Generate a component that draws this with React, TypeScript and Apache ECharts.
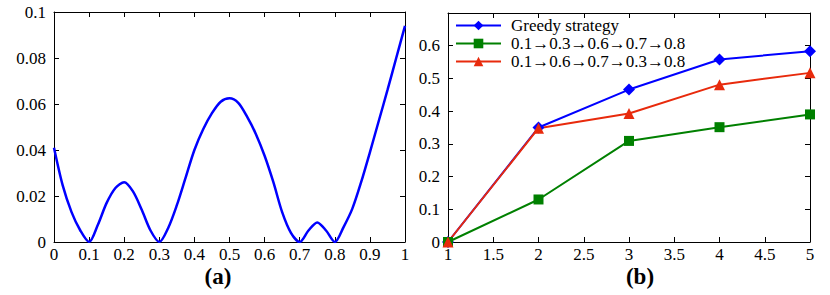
import React, { useEffect, useRef } from "react";
import * as echarts from "echarts";

// Chart (a)
const curveX = [0, 0.025, 0.05, 0.075, 0.1, 0.125, 0.15, 0.175, 0.2, 0.225, 0.25, 0.275, 0.3, 0.325, 0.35, 0.375, 0.4, 0.425, 0.45, 0.475, 0.5, 0.525, 0.55, 0.575, 0.6, 0.625, 0.65, 0.675, 0.7, 0.725, 0.75, 0.775, 0.8, 0.825, 0.85, 0.875, 0.9, 0.925, 0.95, 0.975, 1.0];
const curveY = [0.041, 0.0245, 0.013, 0.005, 0.0, 0.0075, 0.017, 0.0235, 0.026, 0.022, 0.014, 0.005, 0.0, 0.006, 0.016, 0.028, 0.04, 0.049, 0.056, 0.061, 0.0625, 0.0605, 0.0545, 0.047, 0.0375, 0.026, 0.013, 0.004, 0.0, 0.005, 0.0085, 0.005, 0.0, 0.0065, 0.0145, 0.026, 0.039, 0.0525, 0.066, 0.08, 0.094];

// Chart (b)
const stepsB = [1, 2, 3, 4, 5];
const greedy = [0, 0.35, 0.466, 0.558, 0.583];
const seqA = [0, 0.13, 0.309, 0.351, 0.39];
const seqB = [0, 0.348, 0.393, 0.481, 0.517];
const seriesNames = ["Greedy strategy", "0.1→0.3→0.6→0.7→0.8", "0.1→0.6→0.7→0.3→0.8"];

const FONT = "Liberation Serif";

const fmt = (v: number) => String(Math.round(v * 1000) / 1000);

function axisBase(extra: any, label: any) {
  return {
    axisLine: { show: true, onZero: false, lineStyle: { color: "#000", width: 1 } },
    axisTick: { show: true, inside: true, length: 5, lineStyle: { color: "#000" } },
    splitLine: { show: false },
    axisLabel: label,
    ...extra,
  };
}

export default function App() {
  const ref = useRef<HTMLDivElement>(null);
  useEffect(() => {
    if (!ref.current) return;
    const chart = echarts.init(ref.current, undefined, { renderer: "svg" });
    const rich = { t: { fontFamily: FONT, fontSize: 17, color: "#000" } };
    const lab = (margin: number, skipTop: number | null) => ({
      show: true,
      color: "#000",
      fontFamily: FONT,
      fontSize: 17,
      margin,
      rich,
      formatter: (v: number) =>
        skipTop !== null && Math.abs(v - skipTop) < 1e-6 ? "" : `{t|${fmt(v)}}`,
    });
    const hidden = { show: false };
    const option: any = {
      animation: false,
      backgroundColor: "#fff",
      textStyle: { fontFamily: FONT, fontSize: 17, color: "#000" },
      grid: [
        { left: 54, top: 12, width: 351, height: 230 },
        { left: 448, top: 13, width: 362, height: 229 },
      ],
      xAxis: [
        axisBase({ type: "value", gridIndex: 0, min: 0, max: 1, interval: 0.1, position: "bottom" }, lab(4, null)),
        axisBase({ type: "value", gridIndex: 0, min: 0, max: 1, interval: 0.1, position: "top" }, hidden),
        axisBase({ type: "value", gridIndex: 1, min: 1, max: 5, interval: 0.5, position: "bottom" }, lab(4, null)),
        axisBase({ type: "value", gridIndex: 1, min: 1, max: 5, interval: 0.5, position: "top" }, hidden),
      ],
      yAxis: [
        axisBase({ type: "value", gridIndex: 0, min: 0, max: 0.1, interval: 0.02, position: "left" }, lab(8, null)),
        axisBase({ type: "value", gridIndex: 0, min: 0, max: 0.1, interval: 0.02, position: "right" }, hidden),
        axisBase({ type: "value", gridIndex: 1, min: 0, max: 0.7, interval: 0.1, position: "left" }, lab(8, 0.7)),
        axisBase({ type: "value", gridIndex: 1, min: 0, max: 0.7, interval: 0.1, position: "right" }, hidden),
      ],
      legend: {
        orient: "vertical",
        left: 455,
        top: 17,
        padding: 0,
        itemWidth: 45,
        itemHeight: 12,
        itemGap: 1,
        textStyle: { color: "#000", fontFamily: FONT, fontSize: 17, lineHeight: 16, padding: [0, 0, 0, 5] },
        data: seriesNames,
      },
      series: [
        {
          type: "line",
          xAxisIndex: 0,
          yAxisIndex: 0,
          data: curveX.map((x, i) => [x, curveY[i]]),
          smooth: 0.3,
          showSymbol: false,
          lineStyle: { color: "#0000ff", width: 2.5 },
          itemStyle: { color: "#0000ff" },
        },
        {
          name: seriesNames[0],
          type: "line",
          xAxisIndex: 2,
          yAxisIndex: 2,
          data: stepsB.map((x, i) => [x, greedy[i]]),
          symbol: "diamond",
          symbolSize: 12,
          lineStyle: { color: "#0000ff", width: 2 },
          itemStyle: { color: "#0000ff" },
        },
        {
          name: seriesNames[1],
          type: "line",
          xAxisIndex: 2,
          yAxisIndex: 2,
          data: stepsB.map((x, i) => [x, seqA[i]]),
          symbol: "rect",
          symbolSize: 10,
          lineStyle: { color: "#008000", width: 2 },
          itemStyle: { color: "#008000" },
        },
        {
          name: seriesNames[2],
          type: "line",
          xAxisIndex: 2,
          yAxisIndex: 2,
          data: stepsB.map((x, i) => [x, seqB[i]]),
          symbol: "triangle",
          symbolSize: 11,
          lineStyle: { color: "#e82a0c", width: 2 },
          itemStyle: { color: "#e82a0c" },
        },
      ],
      graphic: [
        {
          type: "text",
          x: 218,
          y: 276,
          style: { text: "(a)", fill: "#000", font: "bold 23px 'Liberation Serif'", align: "center", verticalAlign: "middle" },
        },
        {
          type: "text",
          x: 640,
          y: 276,
          style: { text: "(b)", fill: "#000", font: "bold 23px 'Liberation Serif'", align: "center", verticalAlign: "middle" },
        },
      ],
    };
    chart.setOption(option);
    return () => chart.dispose();
  }, []);
  return (
    <div
      ref={ref}
      style={{ position: "fixed", left: 0, top: 0, width: 830, height: 295, background: "#fff" }}
    />
  );
}
